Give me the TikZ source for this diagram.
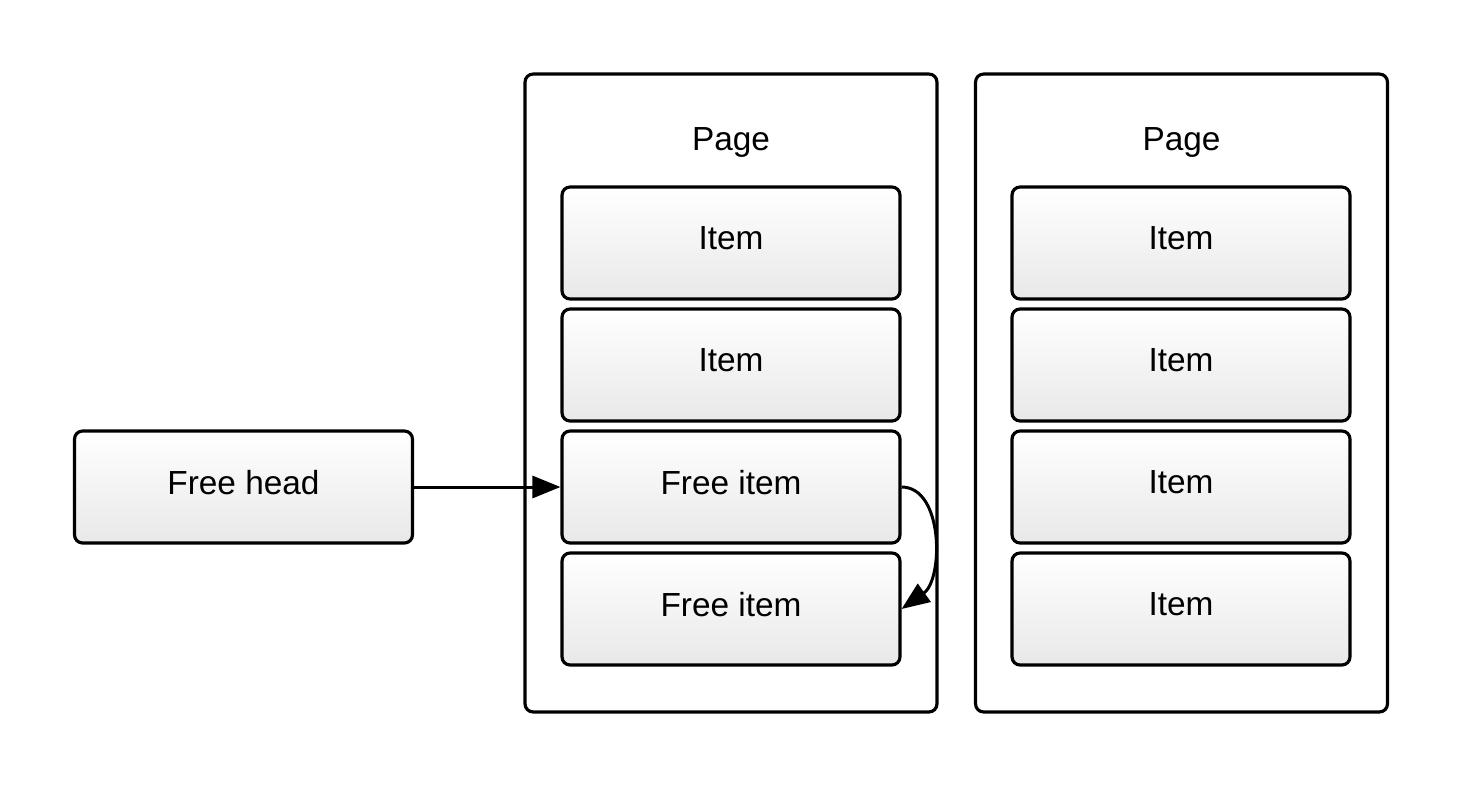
\documentclass[tikz,border=0pt]{standalone}
\usepackage{fontspec}
\setmainfont{Liberation Sans}
\usetikzlibrary{arrows.meta}
\tikzset{
    pagebox/.style={draw, line width=1.8pt, rounded corners=0.16cm,
        minimum width=8.24cm, minimum height=12.76cm},
    itembox/.style={draw, line width=1.8pt, rounded corners=0.16cm,
        top color=white, bottom color=black!9,
        minimum width=6.76cm, minimum height=2.24cm, text depth=0.2cm,
        font=\fontsize{19}{22}\selectfont},
    link/.style={line width=1.7pt, -{Triangle[length=0.56cm, width=0.44cm]}}
}
\begin{document}
\begin{tikzpicture}[x=0.02cm, y=-0.02cm]
        \useasboundingbox (0, 0) rectangle (1463, 788);
        % Draw the two pages
        \node[pagebox] (page1) at (731, 393) {};
        \node[font=\fontsize{19}{22}\selectfont] (title1) at (731, 142) {Page};
        \node[pagebox] (page2) at (1181.5, 393) {};
        \node[font=\fontsize{19}{22}\selectfont] (title2) at (1181.5, 142) {Page};

        % Items of the first page
        \node[itembox] (a1) at (731, 243) {Item};
        \node[itembox] (a2) at (731, 365) {Item};
        \node[itembox] (f1) at (731, 487) {Free item};
        \node[itembox] (f2) at (731, 609) {Free item};

        % Items of the second page
        \foreach \y [count=\i] in {243, 365, 487, 609}
            \node[itembox] (b\i) at (1181, \y) {Item};

        % Free list
        \node[itembox] (head) at (243.5, 487) {Free head};
        \draw[link] (head) -- (f1);
        \draw[link] (f1.east) .. controls +(42, 0) and +(42, -30) .. (f2.east);
    \end{tikzpicture}
\end{document}
